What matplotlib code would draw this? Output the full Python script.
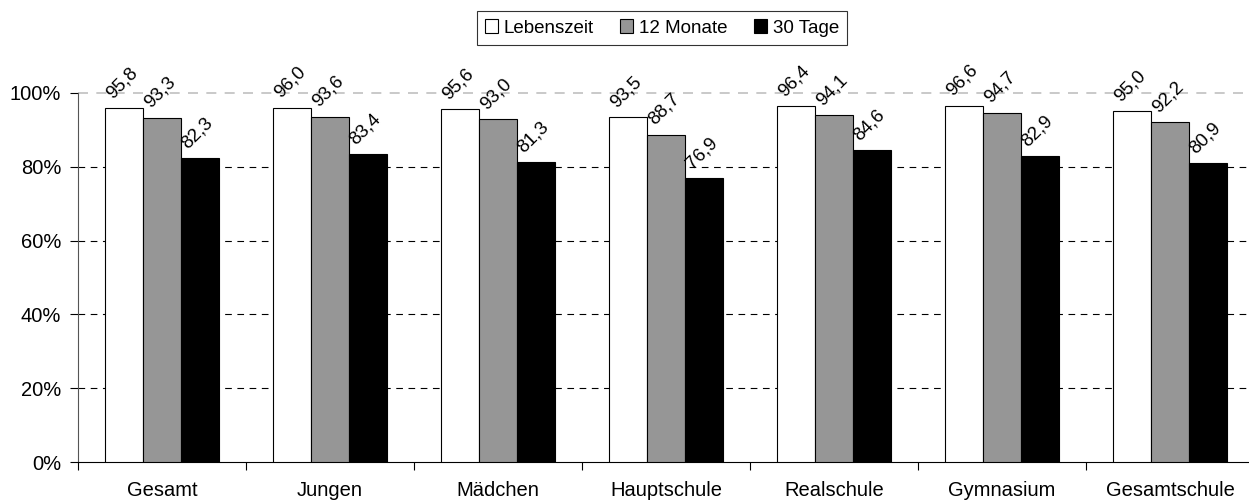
import numpy as np
import matplotlib
matplotlib.use("Agg")
import matplotlib.pyplot as plt
from matplotlib.ticker import FixedLocator

plt.rcParams['font.family'] = ['Liberation Sans', 'DejaVu Sans']

categories = ["Gesamt", "Jungen", "Mädchen", "Hauptschule", "Realschule", "Gymnasium", "Gesamtschule"]
lebenszeit = [95.8, 96.0, 95.6, 93.5, 96.4, 96.6, 95.0]
monate_12 = [93.3, 93.6, 93.0, 88.7, 94.1, 94.7, 92.2]
tage_30 = [82.3, 83.4, 81.3, 76.9, 84.6, 82.9, 80.9]
series_names = ["Lebenszeit", "12 Monate", "30 Tage"]
series_colors = ["white", "#969696", "black"]

fig = plt.figure(figsize=(12.49, 5.01), dpi=100)
ax = fig.add_axes([78 / 1249, 39 / 501, 1176 / 1249, 369 / 501])

x = np.arange(len(categories))
w = 0.225
offsets = [-w, 0, w]

handles = []
for vals, name, col, off in zip([lebenszeit, monate_12, tage_30], series_names, series_colors, offsets):
    bars = ax.bar(x + off, vals, width=w, color=col, edgecolor="black", linewidth=0.8,
                  label=name, zorder=3)
    handles.append(bars)
    for b, v in zip(bars, vals):
        # rotated value labels, starting at the left edge of each bar
        ax.annotate(f"{v:.1f}".replace(".", ","), xy=(b.get_x(), v), xytext=(5, 6.5),
                    textcoords="offset points", rotation=45, rotation_mode="anchor",
                    ha="left", va="baseline", fontsize=13.5, zorder=4)

ax.set_xlim(-0.5, len(categories) - 0.5)
ax.set_ylim(0, 100)
ax.set_yticks([0, 20, 40, 60, 80, 100])
ax.set_yticklabels([f"{t}%" for t in [0, 20, 40, 60, 80, 100]], fontsize=14.5)

# gridlines
for t in [20, 40, 60, 80]:
    ax.axhline(t, color="black", linestyle=(0, (6, 5)), linewidth=0.8, zorder=1)
ax.axhline(100, color="#c0c0c0", linestyle=(0, (6, 5)), linewidth=1.2, zorder=1, clip_on=False)

ax.set_xticks(x)
ax.set_xticklabels(categories, fontsize=14.5)
ax.tick_params(axis="x", which="major", length=0, pad=14)
ax.xaxis.set_minor_locator(FixedLocator(np.arange(-0.5, len(categories), 1.0)))
ax.tick_params(axis="x", which="minor", length=6, direction="out", width=0.8)
ax.tick_params(axis="y", length=6, direction="out", width=0.8, pad=6)

for s in ["top", "right"]:
    ax.spines[s].set_visible(False)
ax.spines["left"].set_linewidth(0.8)
ax.spines["left"].set_color("#555555")
ax.spines["bottom"].set_linewidth(0.8)

leg = fig.legend(handles=handles, labels=series_names, loc="center", bbox_to_anchor=(662 / 1249, 1 - 28 / 501),
                 ncol=3, fontsize=13.5, frameon=True, fancybox=False, edgecolor="black",
                 handlelength=0.7, handleheight=0.7, handletextpad=0.3, columnspacing=1.4,
                 borderpad=0.45)
leg.get_frame().set_linewidth(0.8)

fig.savefig("out.png", dpi=100)
